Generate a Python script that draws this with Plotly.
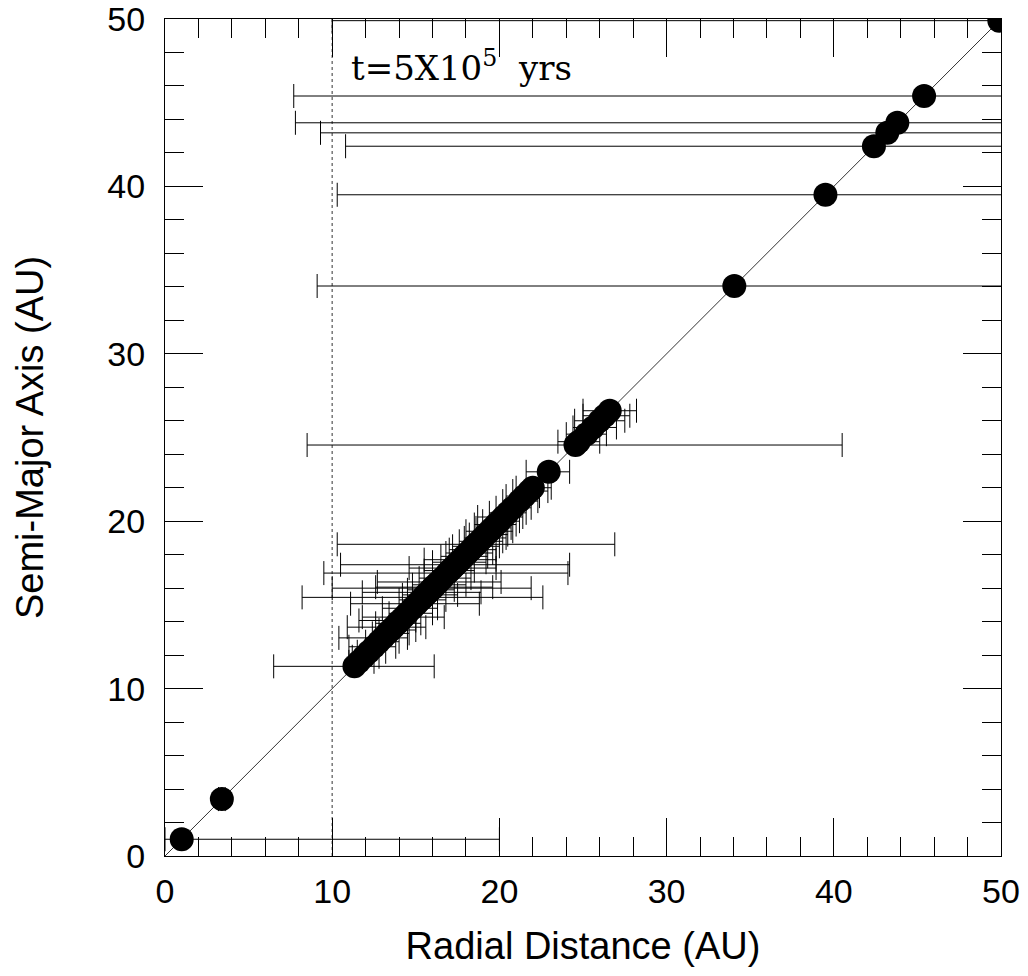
import plotly.graph_objects as go

# semi-major axis (AU), periastron q (AU), apastron Q (AU)
semi_major = [1.0, 3.4, 11.33, 11.6, 11.9, 12.2, 12.5, 12.8, 13.03, 13.3, 13.5, 13.67,
              13.9, 14.07, 14.27, 14.5, 14.8, 15.07, 15.3, 15.45, 15.6, 15.75, 15.9,
              16.0, 16.06, 16.2, 16.37, 16.6, 16.9, 17.05, 17.2, 17.4, 17.55, 17.7,
              17.9, 18.1, 18.3, 18.5, 18.62, 18.8, 19.0, 19.2, 19.4, 19.6, 19.8, 20.0,
              20.25, 20.5, 20.8, 21.2, 21.5, 21.8, 22.0, 22.95, 24.55, 24.75, 25.2,
              25.6, 26.0, 26.3, 26.6, 34.05, 39.5, 42.4, 43.2, 43.8, 45.4, 49.9]
periastron = [0.0, 3.2, 6.5, 11.0, 11.2, 11.5, 11.0, 12.0, 10.4, 12.4, 12.8, 10.9,
              12.6, 11.6, 11.8, 13.4, 13.0, 11.1, 14.0, 8.2, 14.2, 11.8, 14.5,
              10.0, 12.6, 14.8, 12.7, 15.2, 9.5, 15.5, 14.6, 10.5, 16.0, 15.5,
              16.5, 16.8, 17.0, 17.2, 10.3, 17.6, 17.9, 18.2, 18.0, 18.6, 18.5, 19.0,
              18.7, 19.4, 19.8, 20.2, 20.4, 20.8, 21.0, 21.6, 8.5, 23.5, 24.0,
              24.4, 24.5, 25.0, 25.0, 9.1, 10.3, 10.8, 9.3, 7.8, 7.7, 10.0]
apastron = [20.0, 3.6, 16.1, 12.5, 12.8, 13.2, 13.8, 14.0, 14.5, 14.6, 15.0, 15.6,
            15.3, 15.0, 16.7, 16.0, 16.3, 18.8, 16.8, 22.6, 17.5, 18.9, 17.3,
            21.9, 19.6, 18.0, 20.1, 18.3, 24.1, 18.5, 19.8, 24.2, 19.2, 19.8,
            19.3, 19.6, 19.8, 20.0, 26.9, 20.2, 20.4, 20.5, 20.8, 20.7, 21.0, 21.2,
            21.4, 21.6, 21.9, 22.3, 22.4, 22.9, 23.1, 24.2, 40.5, 26.0, 26.4,
            27.0, 27.5, 27.8, 28.2, 60.0, 60.0, 60.0, 60.0, 60.0, 60.0, 60.0]

diag_x = [0, 50]
tick_vals = [0, 10, 20, 30, 40, 50]
tick_text = ["0", "10", "20", "30", "40", "50"]
snow_line = 10

err_plus = [Q - a for a, Q in zip(semi_major, apastron)]
err_minus = [a - q for a, q in zip(semi_major, periastron)]

fig = go.Figure()

fig.add_trace(go.Scatter(
    x=diag_x, y=diag_x, mode="lines",
    line=dict(color="#333333", width=1), showlegend=False, hoverinfo="skip"))

fig.add_trace(go.Scatter(
    x=[snow_line, snow_line], y=[0, 50], mode="lines",
    line=dict(color="#777777", width=1.5, dash="dot"), showlegend=False, hoverinfo="skip"))

fig.add_trace(go.Scatter(
    x=semi_major, y=semi_major, mode="markers",
    marker=dict(color="black", size=24, line=dict(width=0)),
    error_x=dict(type="data", symmetric=False, array=err_plus, arrayminus=err_minus,
                 color="black", thickness=1, width=12),
    showlegend=False))

axis_common = dict(
    range=[0, 50], tickvals=tick_vals, ticktext=tick_text,
    ticks="inside", ticklen=38, tickwidth=1, tickcolor="black",
    showline=True, linecolor="black", linewidth=1, mirror="allticks",
    showgrid=False, zeroline=False, automargin=False, ticklabeloverflow="allow",
    tickfont=dict(family="Liberation Sans, Arial, sans-serif", size=34, color="black"),
    minor=dict(dtick=2, ticks="inside", ticklen=19, tickwidth=1, tickcolor="black", showgrid=False),
)

fig.update_xaxes(**axis_common, ticklabelstandoff=5,
                 title=dict(text="Radial Distance (AU)", standoff=23,
                            font=dict(family="Liberation Sans, Arial, sans-serif", size=38, color="black")))
fig.update_yaxes(**axis_common, ticklabelstandoff=12,
                 title=dict(text="Semi-Major Axis (AU)", standoff=52,
                            font=dict(family="Liberation Sans, Arial, sans-serif", size=38, color="black")))

fig.add_annotation(
    x=11.0, y=47.2, xref="x", yref="y", xanchor="left", yanchor="middle",
    text="t=5X10<sup>5</sup>&nbsp;&nbsp;yrs", showarrow=False,
    font=dict(family="DejaVu Serif, serif", size=34, color="black"))

# the page body has an 8px margin, so the figure is sized to fit the window
fig.update_layout(
    width=1020, height=968,
    margin=dict(l=157, r=27, t=11, b=120),
    paper_bgcolor="white", plot_bgcolor="white",
)

fig.write_html("out.html")
